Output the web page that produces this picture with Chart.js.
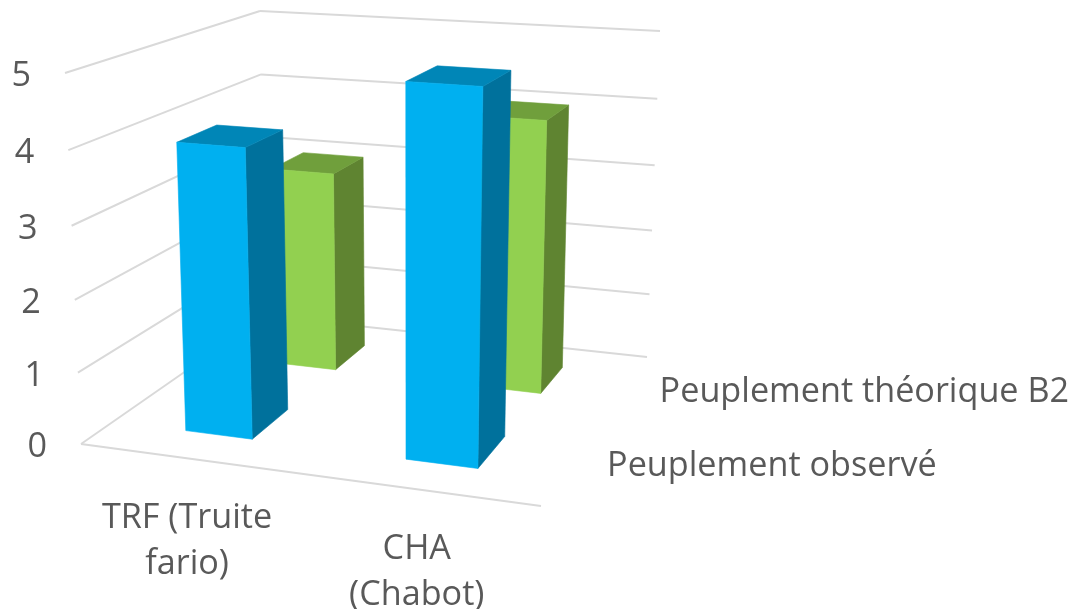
<!DOCTYPE html>
<html>
<head>
<meta charset="utf-8">
<style>html,body{margin:0;padding:0;background:#fff}canvas{display:block}</style>
<script src="https://cdn.jsdelivr.net/npm/chart.js@4"></script>
</head>
<body>
<canvas id="c" width="1074" height="609"></canvas>
<script>
const categories = [["TRF (Truite", "fario)"], ["CHA", "(Chabot)"]];
const seriesNames = ["Peuplement observé", "Peuplement théorique B2"];
const observed = [4, 5];
const theoretical = [3, 4];
const valueTicks = [0, 1, 2, 3, 4, 5];

// Perspective box of the 3D plot: image corners of the floor and the ceiling
const floorQuad = [[81,444],[541,506],[647,357],[265,316]];
const topQuad   = [[65,73],[552,106],[660,31],[260,11]];
const verticalPerspective = 1.05;
const faces = [
  {front:'#00B0F0', side:'#00719C', top:'#0086B7'},
  {front:'#92D050', side:'#5F8431', top:'#709F3C'}
];
const barWidth = 0.155, barDepth = 0.2;
const textColor = '#595959', gridColor = '#d9d9d9';
const fontCss = '34.2px "Open Sans"';

function squareToQuad(q){
  const [[x0,y0],[x1,y1],[x2,y2],[x3,y3]] = q;
  const dx1=x1-x2, dx2=x3-x2, sx=x0-x1+x2-x3, dy1=y1-y2, dy2=y3-y2, sy=y0-y1+y2-y3;
  const d=dx1*dy2-dx2*dy1;
  const g=(sx*dy2-dx2*sy)/d, h=(dx1*sy-sx*dy1)/d;
  const a=x1-x0+g*x1, b=x3-x0+h*x3, c=x0, e=y1-y0+g*y1, f=y3-y0+h*y3, k=y0;
  return (u,v)=>{const w=g*u+h*v+1;return [(a*u+b*v+c)/w,(e*u+f*v+k)/w];};
}
const floorMap = squareToQuad(floorQuad), topMap = squareToQuad(topQuad);
function project(u,v,w){
  const p=floorMap(u,v), t=topMap(u,v);
  const s=w/(w+(1-w)*verticalPerspective);
  return [p[0]+(t[0]-p[0])*s, p[1]+(t[1]-p[1])*s];
}
function frac(scale,px){return (px-scale.left)/scale.width;}
function heightFrac(scale,val){return (scale.bottom-scale.getPixelForValue(val))/scale.height;}

class Bar3DController extends Chart.BarController {
  draw(){
    const chart=this.chart, ctx=chart.ctx, idx=this.index;
    const xs=chart.scales.x, ys=chart.scales.y, ds=chart.scales.depth;
    const vals=this.getDataset().data, col=faces[idx];
    const vc=frac(ds,ds.getPixelForValue(idx));
    const v0=vc-barDepth/2, v1=vc+barDepth/2;
    vals.forEach((val,i)=>{
      const uc=frac(xs,xs.getPixelForValue(i));
      const u0=uc-barWidth/2, u1=uc+barWidth/2, w=heightFrac(ys,val);
      const poly=(pts,fill)=>{
        ctx.beginPath();
        pts.forEach((p,n)=>{const q=project(p[0],p[1],p[2]);n?ctx.lineTo(q[0],q[1]):ctx.moveTo(q[0],q[1]);});
        ctx.closePath();ctx.fillStyle=fill;ctx.strokeStyle=fill;ctx.lineWidth=0.6;ctx.fill();ctx.stroke();
      };
      poly([[u1,v0,0],[u1,v1,0],[u1,v1,w],[u1,v0,w]],col.side);
      poly([[u0,v0,w],[u1,v0,w],[u1,v1,w],[u0,v1,w]],col.top);
      poly([[u0,v0,0],[u1,v0,0],[u1,v0,w],[u0,v0,w]],col.front);
    });
  }
}
Bar3DController.id='bar3d';
Bar3DController.defaults=Chart.BarController.defaults;
Chart.register(Bar3DController);

const wallsAndLabels={
  id:'wallsAndLabels',
  beforeDatasetsDraw(chart){
    const ctx=chart.ctx, ys=chart.scales.y, xs=chart.scales.x, ds=chart.scales.depth;
    const seg=(a,b)=>{ctx.beginPath();ctx.moveTo(a[0],a[1]);ctx.lineTo(b[0],b[1]);ctx.stroke();};
    ctx.save();
    ctx.strokeStyle=gridColor;ctx.lineWidth=2;ctx.lineCap='butt';
    valueTicks.forEach(t=>{
      const w=heightFrac(ys,t);
      seg(project(0,0,w),project(0,1,w));
      seg(project(0,1,w),project(1,1,w));
    });
    seg(project(0,0,0),project(1,0,0));
    ctx.fillStyle=textColor;ctx.font=fontCss;
    ctx.textAlign='right';ctx.textBaseline='middle';
    valueTicks.forEach(t=>{
      const p=project(0,0,heightFrac(ys,t));
      ctx.fillText(String(t),p[0]-34,p[1]+3.5);
    });
    ctx.textAlign='center';
    categories.forEach((lines,i)=>{
      const p=project(frac(xs,xs.getPixelForValue(i)),0,0);
      lines.forEach((s,n)=>ctx.fillText(s,p[0]-2,p[1]+60+n*45.5));
    });
    ctx.textAlign='left';
    seriesNames.forEach((s,i)=>{
      const p=project(1,frac(ds,ds.getPixelForValue(i)),0);
      ctx.fillText(s,p[0]+35,p[1]+4);
    });
    ctx.restore();
  }
};

new Chart(document.getElementById('c'),{
  type:'bar3d',
  data:{
    labels:categories,
    datasets:[
      {label:seriesNames[0],data:observed,backgroundColor:faces[0].front},
      {label:seriesNames[1],data:theoretical,backgroundColor:faces[1].front}
    ]
  },
  options:{
    responsive:false,animation:false,
    layout:{padding:0},
    plugins:{legend:{display:false},tooltip:{enabled:false}},
    scales:{
      x:{type:'category',display:false,offset:true},
      y:{type:'linear',display:false,min:0,max:5,ticks:{stepSize:1}},
      depth:{type:'category',axis:'x',display:false,offset:true,labels:seriesNames}
    }
  },
  plugins:[wallsAndLabels]
});
</script>
</body>
</html>
